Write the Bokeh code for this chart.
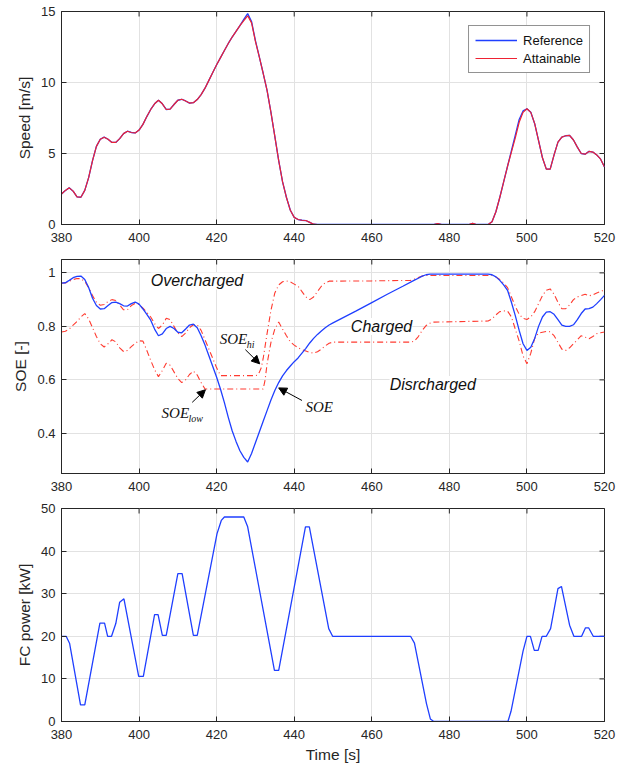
import math
from bokeh.plotting import figure
from bokeh.models import (Range1d, FixedTicker, Label, Arrow, NormalHead,
                          Legend, LegendItem, CustomJSTickFormatter)
from bokeh.layouts import column
from bokeh.embed import file_html
from bokeh.resources import INLINE

# ---------------- data ----------------
x_ticks = [380, 400, 420, 440, 460, 480, 500, 520]

# Speed panel
speed_t = [380, 381, 382, 383, 384, 385, 386, 387, 388, 389, 390, 391, 392, 393, 394, 395, 396, 397, 398, 399,
           400, 401, 402, 403, 404, 405, 406, 407, 408, 409, 410, 411, 412, 413, 414, 415, 416, 417, 418, 419,
           420, 421, 422, 423, 424, 425, 426, 427, 428, 429, 430, 431, 432, 433, 434, 435, 436, 437, 438, 439,
           440, 441, 442, 443, 444, 445, 446, 476, 477, 478, 485, 486, 487, 490, 491, 492, 493, 494, 495, 496,
           497, 498, 499, 500, 501, 502, 503, 504, 505, 506, 507, 508, 509, 510, 511, 512, 513, 514, 515, 516,
           517, 518, 519, 520]
speed_ref = [2.15, 2.4, 2.58, 2.35, 1.95, 1.92, 2.4, 3.3, 4.5, 5.5, 6.0, 6.15, 6.0, 5.78, 5.78, 6.05, 6.4, 6.57, 6.48, 6.45,
             6.65, 7.05, 7.6, 8.1, 8.5, 8.75, 8.5, 8.1, 8.12, 8.45, 8.75, 8.82, 8.7, 8.55, 8.58, 8.8, 9.15, 9.6, 10.15, 10.7,
             11.25, 11.75, 12.25, 12.75, 13.2, 13.6, 14.0, 14.45, 14.85, 14.3, 12.95, 11.8, 10.65, 9.44, 7.9, 6.2, 4.5, 3.0, 1.9, 1.0,
             0.5, 0.35, 0.3, 0.28, 0.15, 0.02, 0.0, 0.0, 0.06, 0.0, 0.0, 0.08, 0.0, 0.0, 0.2, 0.9, 1.9, 3.0, 4.1, 5.2,
             6.3, 7.4, 8.0, 8.15, 7.9, 7.1, 5.9, 4.7, 3.9, 3.9, 4.9, 5.8, 6.15, 6.25, 6.27, 5.95, 5.45, 5.0, 4.95, 5.15,
             5.1, 4.9, 4.6, 4.05]
speed_att = [2.15, 2.4, 2.58, 2.35, 1.95, 1.92, 2.4, 3.3, 4.5, 5.5, 6.0, 6.15, 6.0, 5.78, 5.78, 6.05, 6.4, 6.57, 6.48, 6.45,
             6.65, 7.05, 7.6, 8.1, 8.5, 8.75, 8.5, 8.1, 8.12, 8.45, 8.75, 8.82, 8.7, 8.55, 8.58, 8.8, 9.15, 9.6, 10.15, 10.7,
             11.25, 11.75, 12.25, 12.75, 13.2, 13.6, 14.0, 14.35, 14.7, 14.2, 12.9, 11.8, 10.65, 9.44, 7.9, 6.2, 4.5, 3.0, 1.9, 1.0,
             0.5, 0.35, 0.3, 0.28, 0.15, 0.02, 0.0, 0.0, 0.06, 0.0, 0.0, 0.08, 0.0, 0.0, 0.2, 0.9, 1.9, 3.0, 4.1, 5.1,
             6.1, 7.2, 7.9, 8.15, 7.9, 7.1, 5.9, 4.7, 3.9, 3.9, 4.9, 5.8, 6.15, 6.25, 6.27, 5.95, 5.45, 5.0, 4.95, 5.15,
             5.1, 4.9, 4.6, 4.05]

# SOE panel
soe_t = [380, 381, 382, 383, 384, 385, 386, 387, 388, 389, 390, 391, 392, 393, 394, 395, 396, 397, 398, 399,
         400, 401, 402, 403, 404, 405, 406, 407, 408, 409, 410, 411, 412, 413, 414, 415, 416, 417, 418, 419,
         420, 421, 422, 423, 424, 425, 426, 427, 428, 429, 430, 431, 432, 433, 434, 435, 436, 437, 438, 439,
         440, 441, 442, 443, 444, 445, 446, 447, 448, 449, 450, 452, 456, 460, 464, 468, 471, 472, 473, 474,
         475, 480, 490, 491, 492, 493, 494, 495, 496, 497, 498, 499, 500, 501, 502, 503, 504, 505, 506, 507,
         508, 509, 510, 511, 512, 513, 514, 515, 516, 517, 518, 519, 520]
soe = [0.962, 0.963, 0.972, 0.982, 0.987, 0.988, 0.975, 0.945, 0.905, 0.878, 0.865, 0.866, 0.878, 0.889, 0.891, 0.885, 0.877, 0.876, 0.885, 0.891,
       0.883, 0.865, 0.845, 0.823, 0.79, 0.765, 0.772, 0.792, 0.8, 0.792, 0.778, 0.776, 0.79, 0.805, 0.808, 0.795, 0.765, 0.73, 0.69, 0.65,
       0.61, 0.565, 0.515, 0.46, 0.41, 0.37, 0.335, 0.31, 0.293, 0.325, 0.365, 0.405, 0.445, 0.485, 0.525, 0.56, 0.59, 0.615, 0.635, 0.652,
       0.668, 0.682, 0.7, 0.718, 0.738, 0.755, 0.77, 0.783, 0.795, 0.805, 0.813, 0.828, 0.858, 0.889, 0.92, 0.95, 0.973, 0.98, 0.988, 0.993,
       0.995, 0.995, 0.995, 0.993, 0.985, 0.972, 0.955, 0.935, 0.89, 0.84, 0.785, 0.735, 0.71, 0.722, 0.755, 0.8, 0.835, 0.853, 0.855, 0.845,
       0.825, 0.805, 0.8, 0.8, 0.806, 0.825, 0.848, 0.865, 0.866, 0.872, 0.885, 0.9, 0.916]

soe_hi_t = [380, 381, 382, 383, 384, 385, 386, 387, 388, 389, 390, 391, 392, 393, 394, 395, 396, 397, 398, 399,
            400, 401, 402, 403, 404, 405, 406, 407, 408, 409, 410, 411, 412, 413, 414, 415, 416, 417, 418, 419,
            420, 421, 430, 430.5, 431, 431.5, 432, 433, 434, 435, 436, 437, 438, 439, 440, 441, 442, 443, 444, 445,
            446, 447, 448, 449, 460, 470, 471, 472, 473, 474, 491, 492, 493, 494, 495, 496, 497, 498, 499, 500,
            501, 502, 503, 504, 505, 506, 507, 508, 509, 510, 511, 512, 513, 514, 515, 516, 517, 518, 519, 520]
soe_hi = [0.962, 0.962, 0.968, 0.975, 0.979, 0.978, 0.968, 0.945, 0.915, 0.89, 0.879, 0.882, 0.893, 0.9, 0.897, 0.88, 0.862, 0.862, 0.878, 0.886,
          0.882, 0.868, 0.852, 0.835, 0.81, 0.792, 0.805, 0.83, 0.825, 0.8, 0.775, 0.762, 0.775, 0.795, 0.806, 0.806, 0.785, 0.75, 0.715, 0.68,
          0.645, 0.616, 0.616, 0.618, 0.628, 0.645, 0.68, 0.773, 0.86, 0.925, 0.955, 0.967, 0.97, 0.966, 0.958, 0.95, 0.93, 0.91, 0.9, 0.91,
          0.93, 0.95, 0.963, 0.969, 0.97, 0.972, 0.977, 0.983, 0.988, 0.99, 0.99, 0.985, 0.975, 0.962, 0.945, 0.91, 0.875, 0.845, 0.83, 0.826,
          0.835, 0.855, 0.885, 0.915, 0.935, 0.94, 0.92, 0.89, 0.866, 0.866, 0.88, 0.9, 0.91, 0.915, 0.92, 0.914, 0.918, 0.925, 0.93, 0.938]

soe_low_t = [380, 381, 382, 383, 384, 385, 386, 387, 388, 389, 390, 391, 392, 393, 394, 395, 396, 397, 398, 399,
             400, 401, 402, 403, 404, 405, 406, 407, 408, 409, 410, 411, 412, 413, 414, 415, 416, 417, 432, 432.5,
             433, 434, 435, 436, 437, 438, 439, 440, 441, 442, 443, 444, 445, 446, 447, 448, 449, 450, 470, 471,
             472, 473, 474, 475, 476, 490, 491, 492, 493, 494, 495, 496, 497, 498, 499, 500, 501, 502, 503, 504,
             505, 506, 507, 508, 509, 510, 511, 512, 513, 514, 515, 516, 517, 518, 519, 520]
soe_low = [0.779, 0.782, 0.79, 0.805, 0.818, 0.835, 0.848, 0.828, 0.795, 0.762, 0.735, 0.723, 0.735, 0.75, 0.742, 0.72, 0.706, 0.71, 0.724, 0.737,
           0.746, 0.745, 0.71, 0.673, 0.638, 0.612, 0.635, 0.662, 0.655, 0.63, 0.605, 0.59, 0.6, 0.62, 0.633, 0.618, 0.59, 0.566, 0.566, 0.6,
           0.66, 0.74, 0.79, 0.816, 0.79, 0.765, 0.742, 0.73, 0.72, 0.713, 0.708, 0.703, 0.7, 0.705, 0.715, 0.727, 0.737, 0.741, 0.741, 0.745,
           0.762, 0.785, 0.803, 0.812, 0.816, 0.82, 0.828, 0.843, 0.855, 0.858, 0.857, 0.835, 0.79, 0.745, 0.69, 0.66, 0.7, 0.755, 0.775, 0.778,
           0.781, 0.78, 0.765, 0.74, 0.715, 0.71, 0.72, 0.735, 0.75, 0.765, 0.76, 0.754, 0.762, 0.773, 0.776, 0.779]

# FC power panel
fc_t = [380, 381.2, 382.1, 384.9, 386.0, 389.9, 391.1, 391.9, 392.9, 394.0, 395.0, 396.1, 399.9, 401.1, 404.0, 404.9,
        406.0, 407.0, 410.0, 411.1, 414.0, 415.0, 420.1, 421.2, 422.0, 427.0, 428.0, 434.9, 436.0, 442.9, 443.9, 448.9,
        449.9, 470.0, 471.0, 474.1, 475.1, 476.0, 495.1, 495.9, 499.0, 500.0, 500.9, 501.9, 502.9, 503.9, 505.0, 506.1,
        508.0, 508.9, 511.0, 512.1, 514.1, 515.1, 515.9, 517.1, 520]
fc_p = [20, 20, 18.3, 3.9, 3.9, 23.1, 23.1, 20, 20, 23, 28, 28.8, 10.6, 10.6, 25.1, 25.1,
        20.2, 20.2, 34.7, 34.7, 20.2, 20.2, 44.1, 47.2, 48, 48, 45.7, 12, 12, 45.7, 45.7, 21.8,
        20, 20, 18.4, 4.2, 0.6, 0, 0, 2.4, 16.5, 20, 20, 16.7, 16.7, 20, 20, 21.8,
        31.2, 31.7, 22.6, 20, 20, 22, 22, 20, 20]

speed_ticks = [0, 5, 10, 15]
soe_ticks = [0.4, 0.6, 0.8, 1.0]
fc_ticks = [0, 10, 20, 30, 40, 50]

# ---------------- styling ----------------
FONT = "Liberation Sans"
AX = "#262626"
GRID = "#e2e2e2"
BLUE = "#1f3fff"
RED = "#ee2233"
DRED = "#ff3b30"
W = 632


def make_fig(height, yr, yticks, ylabel, top, bottom, xlabel=None, fmt=None):
    p = figure(width=W, height=height, x_range=Range1d(380, 520), y_range=Range1d(*yr),
               output_backend="svg", toolbar_location=None,
               min_border_left=61, min_border_right=28, min_border_top=top, min_border_bottom=bottom)
    p.background_fill_color = "white"
    p.border_fill_color = "white"
    p.outline_line_color = AX
    p.outline_line_alpha = 1.0
    p.xaxis.ticker = FixedTicker(ticks=x_ticks)
    p.yaxis.ticker = FixedTicker(ticks=yticks)
    if fmt is not None:
        p.yaxis.formatter = fmt
    p.yaxis.axis_label = ylabel
    if xlabel:
        p.xaxis.axis_label = xlabel
    for ax in p.xaxis + p.yaxis:
        ax.axis_line_color = AX
        ax.major_tick_line_color = AX
        ax.major_tick_in = 5
        ax.major_tick_out = 0
        ax.minor_tick_line_color = None
        ax.major_label_text_font = FONT
        ax.major_label_text_font_size = "13px"
        ax.major_label_text_color = AX
        ax.axis_label_text_font = FONT
        ax.axis_label_text_font_size = "15.5px"
        ax.axis_label_text_font_style = "normal"
        ax.axis_label_text_color = AX
    p.xaxis.major_label_standoff = 8
    p.xaxis.axis_label_standoff = 4
    p.yaxis.major_label_standoff = 6
    p.yaxis.axis_label_standoff = 5
    p.xgrid.ticker = FixedTicker(ticks=x_ticks)
    p.ygrid.ticker = FixedTicker(ticks=yticks)
    p.grid.grid_line_color = GRID
    p.grid.grid_line_width = 1
    # box ticks on the top and right edges (half of each dash is clipped by the frame)
    p.scatter(x_ticks, [yr[1]] * len(x_ticks), marker="dash", size=10, angle=math.pi / 2,
              line_color=AX, line_width=1)
    p.scatter([520] * len(yticks), yticks, marker="dash", size=10, line_color=AX, line_width=1)
    return p


# ---------- Panel 1: speed ----------
p1 = make_fig(250, (0, 15), speed_ticks, "Speed [m/s]", 11, 26)
r_ref = p1.line(speed_t, speed_ref, line_color=BLUE, line_width=1.3)
r_att = p1.line(speed_t, speed_att, line_color=RED, line_width=1.2)
legend = Legend(items=[LegendItem(label="Reference", renderers=[r_ref]),
                       LegendItem(label="Attainable", renderers=[r_att])],
                location="top_right", margin=14, padding=6, spacing=2,
                glyph_width=42, glyph_height=16, label_height=16, label_standoff=6,
                label_text_font=FONT, label_text_font_size="13px", label_text_color="#111111",
                border_line_color=AX, border_line_width=1, background_fill_color="white",
                background_fill_alpha=1.0)
p1.add_layout(legend)

# ---------- Panel 2: SOE ----------
soe_fmt = CustomJSTickFormatter(code="return String(Math.round(tick*10)/10);")
p2 = make_fig(248, (0.25, 1.05), soe_ticks, "SOE [-]", 9, 25, fmt=soe_fmt)
p2.line(soe_hi_t, soe_hi, line_color=DRED, line_width=1.1, line_dash="6 3 1 3")
p2.line(soe_low_t, soe_low, line_color=DRED, line_width=1.1, line_dash="6 3 1 3")
p2.line(soe_t, soe, line_color=BLUE, line_width=1.3)

for txt, xx, yy in [("Overcharged", 403.0, 0.97), ("Charged", 454.6, 0.8), ("Disrcharged", 464.6, 0.583)]:
    p2.add_layout(Label(x=xx, y=yy, text=txt, text_font=FONT, text_font_style="italic",
                        text_font_size="16px", text_baseline="middle", text_align="left",
                        text_color="#111111", background_fill_color="white", background_fill_alpha=1.0))

SERIF = "Liberation Serif"
for main_x, main_y, sub in [(420.8, 0.752, "hi"), (405.8, 0.476, "low"), (442.9, 0.5, "")]:
    p2.add_layout(Label(x=main_x, y=main_y, text="SOE", text_font=SERIF, text_font_style="italic",
                        text_font_size="15px", text_baseline="middle", text_color="#111111"))
    if sub:
        p2.add_layout(Label(x=main_x, y=main_y - 0.02, x_offset=27, text=sub, text_font=SERIF,
                            text_font_style="italic", text_font_size="10px", text_baseline="middle",
                            text_color="#111111"))

for xs, ys, xe, ye in [(427.4, 0.713, 431.1, 0.66), (413.7, 0.516, 417.1, 0.563), (442.0, 0.523, 436.0, 0.57)]:
    p2.add_layout(Arrow(end=NormalHead(size=8, fill_color="black", line_color="black"),
                        x_start=xs, y_start=ys, x_end=xe, y_end=ye, line_color="black", line_width=1))

# ---------- Panel 3: FC power ----------
p3 = make_fig(270, (0, 50), fc_ticks, "FC power [kW]", 10, 47, xlabel="Time [s]")
p3.line(fc_t, fc_p, line_color=BLUE, line_width=1.3)

layout = column(p1, p2, p3, spacing=0)
open("out.html", "w").write(file_html(layout, INLINE))
